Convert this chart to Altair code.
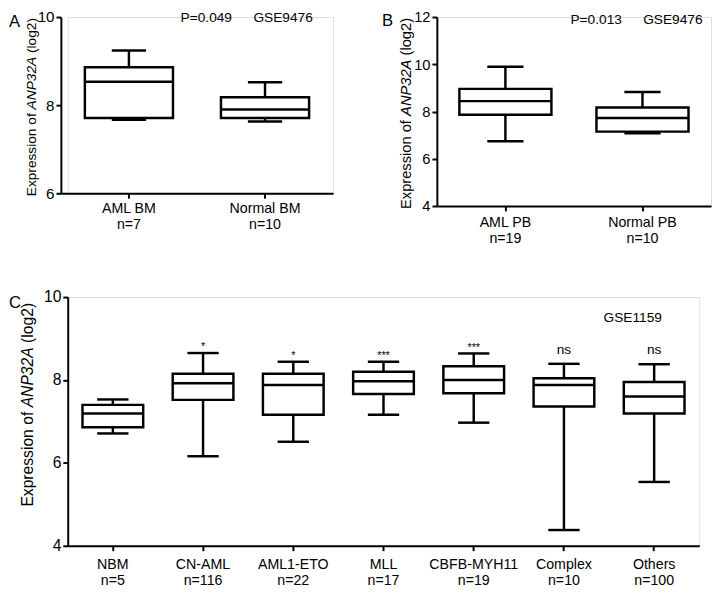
import altair as alt
import pandas as pd

FONT = "Liberation Sans"

# ---------------- data ----------------
title_parts = ["Expression of", "ANP32A", "(log2)"]

# Panel A (GSE9476, bone marrow)
a_groups = ["AML BM", "Normal BM"]
a_n = ["n=7", "n=10"]
a_min = [7.67, 7.63]
a_q1 = [7.71, 7.71]
a_med = [8.53, 7.90]
a_q3 = [8.86, 8.18]
a_max = [9.24, 8.52]
a_ticks = [6, 8, 10]
a_notes = ["P=0.049", "GSE9476"]

# Panel B (GSE9476, peripheral blood)
b_groups = ["AML PB", "Normal PB"]
b_n = ["n=19", "n=10"]
b_min = [6.74, 7.08]
b_q1 = [7.86, 7.15]
b_med = [8.44, 7.73]
b_q3 = [8.96, 8.17]
b_max = [9.90, 8.83]
b_ticks = [4, 6, 8, 10, 12]
b_notes = ["P=0.013", "GSE9476"]

# Panel C (GSE1159, subtypes)
c_groups = ["NBM", "CN-AML", "AML1-ETO", "MLL", "CBFB-MYH11", "Complex", "Others"]
c_n = ["n=5", "n=116", "n=22", "n=17", "n=19", "n=10", "n=100"]
c_min = [6.71, 6.16, 6.51, 7.16, 6.97, 4.38, 5.54]
c_q1 = [6.86, 7.52, 7.16, 7.66, 7.68, 7.36, 7.19]
c_med = [7.19, 7.92, 7.88, 7.97, 8.00, 7.88, 7.60]
c_q3 = [7.40, 8.15, 8.15, 8.20, 8.33, 8.04, 7.95]
c_max = [7.53, 8.65, 8.44, 8.44, 8.64, 8.39, 8.38]
c_sig = ["", "*", "*", "***", "***", "ns", "ns"]
c_ticks = [4, 6, 8, 10]
c_notes = ["GSE1159"]


def text_layer(text, x, y, **kw):
    style = dict(font=FONT, color="black")
    style.update(kw)
    return alt.Chart(pd.DataFrame({"t": [text]})).mark_text(**style).encode(
        text="t:N", x=alt.value(x), y=alt.value(y)
    )


def y_title(x, y0, f):
    offs = [0, 6.336, 10.449]
    styles = ["normal", "italic", "normal"]
    return [
        text_layer(t, x, y0 - o * f, angle=270, align="left",
                   baseline="alphabetic", fontSize=f, fontStyle=s)
        for t, o, s in zip(title_parts, offs, styles)
    ]


def panel(groups, ns, mins, q1, med, q3, mx, domain, ticks, w, h,
          box_w, cap_w, lab_pad, lab_lh, ytick_fs, xlab_fs, shift=0):
    labels = [f"{g}|{n}" for g, n in zip(groups, ns)]
    df = pd.DataFrame({"label": labels, "min": mins, "q1": q1, "med": med,
                       "q3": q3, "max": mx})
    xaxis = alt.Axis(title=None, labelExpr="split(datum.label, '|')",
                     labelAngle=0, labelFontSize=xlab_fs, labelFont=FONT,
                     labelColor="black", labelPadding=lab_pad,
                     labelLineHeight=lab_lh, tickSize=5, tickWidth=2,
                     tickColor="black", domainColor="black", domainWidth=2)
    yaxis = alt.Axis(title=None, values=ticks, labelFontSize=ytick_fs,
                     labelFont=FONT, labelColor="black", labelPadding=2,
                     tickSize=5, tickWidth=2, tickColor="black",
                     domainColor="black", domainWidth=2, grid=False,
                     offset=shift)
    if shift:
        xs = alt.Scale(paddingInner=0, paddingOuter=0, range=[-shift, w])
    else:
        xs = alt.Scale(paddingInner=0, paddingOuter=0)
    x = alt.X("label:N", sort=labels, scale=xs, axis=xaxis)
    ys = alt.Scale(domain=domain, nice=False, zero=False)
    base = alt.Chart(df)
    lw = base.mark_rule(color="black", strokeWidth=2.5).encode(
        x=x, y=alt.Y("min:Q", scale=ys, axis=yaxis), y2="q1:Q")
    uw = base.mark_rule(color="black", strokeWidth=2.5).encode(
        x=x, y=alt.Y("q3:Q", scale=ys, axis=yaxis), y2="max:Q")
    box = base.mark_bar(size=box_w, fill="white", stroke="black",
                        strokeWidth=2.5).encode(
        x=x, y=alt.Y("q1:Q", scale=ys, axis=yaxis), y2="q3:Q")
    medt = base.mark_tick(size=box_w, thickness=2.5, color="black",
                          opacity=1).encode(
        x=x, y=alt.Y("med:Q", scale=ys, axis=yaxis))
    capl = base.mark_tick(size=cap_w, thickness=2.5, color="black",
                          opacity=1).encode(
        x=x, y=alt.Y("min:Q", scale=ys, axis=yaxis))
    capu = base.mark_tick(size=cap_w, thickness=2.5, color="black",
                          opacity=1).encode(
        x=x, y=alt.Y("max:Q", scale=ys, axis=yaxis))
    return [lw, uw, box, medt, capl, capu], df, x, ys


# ---- Panel A ---- (origin shared with panel C; y axis pushed 7px left)
AW, AH, ASH = 271, 180, 7
la, dfa, xa, ysa = panel(a_groups, a_n, a_min, a_q1, a_med, a_q3, a_max,
                         [6, 10], a_ticks, AW, AH, 90, 35, 4, 16, 15.5, 14.5,
                         shift=ASH)
la += y_title(-32, 183, 14)
la.append(text_layer("A", -60, 10, align="left", baseline="alphabetic",
                     fontSize=17))
la.append(text_layer(a_notes[0], 141.5, 1, align="center", baseline="middle",
                     fontSize=14))
la.append(text_layer(a_notes[1], 220, 1, align="center", baseline="middle",
                     fontSize=14))
chart_a = alt.layer(*la).properties(width=AW, height=AH)

# ---- Panel B ----
BW, BH = 280, 193
lb, dfb, xb, ysb = panel(b_groups, b_n, b_min, b_q1, b_med, b_q3, b_max,
                         [4, 12], b_ticks, BW, BH, 94, 37, 5, 16, 15, 14.5)
lb += y_title(-26, 196, 15)
lb.append(text_layer("B", -56, 9, align="left", baseline="alphabetic",
                     fontSize=17))
lb.append(text_layer(b_notes[0], 162.7, 3, align="center", baseline="middle",
                     fontSize=14))
lb.append(text_layer(b_notes[1], 241, 3, align="center", baseline="middle",
                     fontSize=14))
chart_b = alt.layer(*lb).properties(width=BW, height=BH)

# ---- Panel C ----
CW, CH = 645, 254
lc, dfc, xc, ysc = panel(c_groups, c_n, c_min, c_q1, c_med, c_q3, c_max,
                         [4, 10], c_ticks, CW, CH, 62, 32, 7, 17, 16, 14.5)
dfc["sig"] = c_sig
stars = alt.Chart(dfc).transform_filter("indexof(datum.sig, '*') >= 0").mark_text(
    font=FONT, fontSize=11, color="black", baseline="alphabetic", dy=-3
).encode(x=xc, y=alt.Y("max:Q", scale=ysc), text="sig:N")
nss = alt.Chart(dfc).transform_filter("datum.sig == 'ns'").mark_text(
    font=FONT, fontSize=14, color="black", baseline="alphabetic", dy=-10
).encode(x=xc, y=alt.Y("max:Q", scale=ysc), text="sig:N")
lc += [stars, nss]
lc += y_title(-35, 214, 16)
lc.append(text_layer("C", -60, 11, align="left", baseline="alphabetic",
                     fontSize=17))
lc.append(text_layer(c_notes[0], 577, 21, align="center", baseline="middle",
                     fontSize=14))
chart_c = alt.layer(*lc).properties(width=CW, height=CH)

top = alt.hconcat(chart_a, chart_b, spacing=41)
chart = alt.concat(top, chart_c, columns=1, spacing=44, align="none").properties(
    padding={"left": 0, "top": -5, "right": 0, "bottom": 0}
).configure_view(stroke=None).configure(font=FONT)

chart.save("out.html", embed_options={"renderer": "svg", "actions": False})
